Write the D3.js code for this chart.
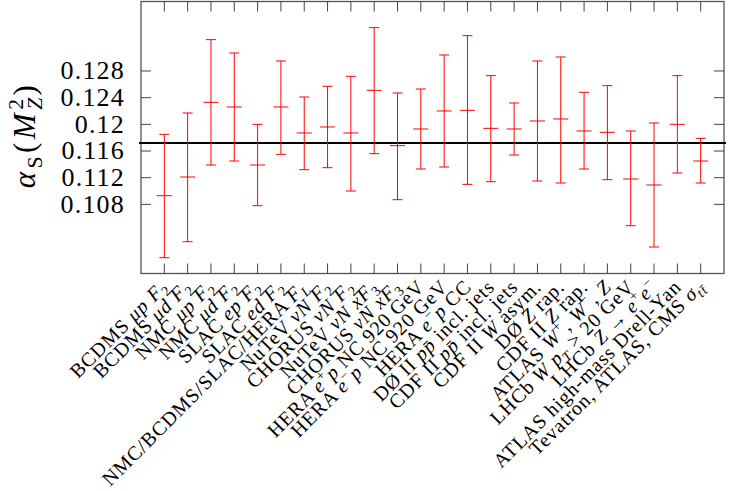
<!DOCTYPE html>
<html>
<head>
<meta charset="utf-8">
<script src="https://cdn.jsdelivr.net/npm/d3@7"></script>
<style>
  body { margin: 0; background: #fff; }
  svg { display: block; font-family: "Liberation Serif", "DejaVu Serif", serif; }
</style>
</head>
<body>
<svg id="svg" width="729" height="491"></svg>
<script>
// data sets (markup: *italic*, _{sub}, ^{sup})
var labels = [
  "BCDMS *μp* *F*_{2}",
  "BCDMS *μd* *F*_{2}",
  "NMC *μp* *F*_{2}",
  "NMC *μd* *F*_{2}",
  "SLAC *ep* *F*_{2}",
  "SLAC *ed* *F*_{2}",
  "NMC/BCDMS/SLAC/HERA *F*_{*L*}",
  "NuTeV *νN* *F*_{2}",
  "CHORUS *νN* *F*_{2}",
  "NuTeV *νN* *xF*_{3}",
  "CHORUS *νN* *xF*_{3}",
  "HERA *e*^{+}*p* NC 920 GeV",
  "HERA *e*^{−}*p* NC 920 GeV",
  "HERA *e*^{−}*p* CC",
  "DØ II *pp̄* incl. jets",
  "CDF II *pp̄* incl. jets",
  "CDF II *W* asym.",
  "DØ *Z* rap.",
  "CDF II *Z* rap.",
  "ATLAS *W*^{+}, *W*^{−}, *Z*",
  "LHCb *W* *p*_{*T*} > 20 GeV",
  "LHCb *Z* → *e*^{+}*e*^{−}",
  "ATLAS high-mass Drell-Yan",
  "Tevatron, ATLAS, CMS *σ*_{*tt̄*}"
];

var central = [0.1093, 0.1121, 0.1233, 0.1226, 0.1139, 0.1226, 0.1187, 0.1196,
               0.1187, 0.1251, 0.1168, 0.1193, 0.1220, 0.1221, 0.1194, 0.1193,
               0.1205, 0.1208, 0.1190, 0.1188, 0.1118, 0.1109, 0.1200, 0.1145];
var upper   = [0.1185, 0.1217, 0.1327, 0.1307, 0.1200, 0.1295, 0.1241, 0.1257,
               0.1272, 0.1345, 0.1247, 0.1253, 0.1304, 0.1333, 0.1273, 0.1232,
               0.1295, 0.1301, 0.1248, 0.1258, 0.1190, 0.1202, 0.1273, 0.1179];
var lower   = [0.1000, 0.1024, 0.1139, 0.1145, 0.1078, 0.1155, 0.1132, 0.1135,
               0.1100, 0.1156, 0.1087, 0.1133, 0.1136, 0.1110, 0.1114, 0.1154,
               0.1115, 0.1112, 0.1133, 0.1117, 0.1048, 0.1016, 0.1127, 0.1112];

var yTicks = [0.108, 0.112, 0.116, 0.12, 0.124, 0.128];
var globalAlpha = 0.1172;

var svg = d3.select('svg');
var plot = { left: 141, right: 724, top: 1.5, bottom: 273.5 };

var x = d3.scalePoint().domain(d3.range(labels.length)).range([plot.left, plot.right]).padding(1);
var y = d3.scaleLinear().domain([0.09763, 0.13842]).range([plot.bottom, plot.top]);

// add tspans for the small markup language
function richText(sel, str, size) {
  var italic = false, prevSub = null, pendingDy = 0;
  var i = 0, buf = '';
  function flush() {
    if (!buf) return;
    var t = sel.append('tspan').text(buf)
      .style('font-style', italic ? 'italic' : 'normal');
    if (pendingDy) t.attr('dy', pendingDy);
    pendingDy = 0;
    buf = '';
  }
  while (i < str.length) {
    var c = str[i];
    if (c == '*') { flush(); italic = !italic; i++; continue; }
    if ((c == '_' || c == '^') && str[i + 1] == '{') {
      flush();
      var end = str.indexOf('}', i);
      var inner = str.slice(i + 2, end);
      var isSub = c == '_';
      var dy = isSub ? 0.22 * size : -0.4 * size;
      var span = sel.append('tspan').style('font-size', (size * 0.7) + 'px');
      if (!isSub && prevSub) {
        // stack superscript over previous subscript
        span.attr('dx', -prevSub.node().getComputedTextLength());
        span.attr('dy', pendingDy + dy - 0.22 * size + pendingDy * 0);
        dy = -0.4 * size;
        span.attr('dy', -0.62 * size);
      } else {
        span.attr('dy', pendingDy + dy);
      }
      inner.split('*').forEach(function(p, k) {
        if (!p) return;
        var it = (k % 2 == 1) ? !italic : italic;
        span.append('tspan').text(p).style('font-style', it ? 'italic' : 'normal');
      });
      pendingDy = -dy;
      prevSub = isSub ? span : null;
      i = end + 1;
      continue;
    }
    prevSub = null;
    buf += c;
    i++;
  }
  flush();
}

// frame
svg.append('rect')
  .attr('x', plot.left).attr('y', plot.top)
  .attr('width', plot.right - plot.left).attr('height', plot.bottom - plot.top)
  .attr('fill', 'none').attr('stroke', '#555').attr('stroke-width', 1.3);

// x ticks, top and bottom, pointing inward
labels.forEach(function(d, i) {
  var px = x(i);
  svg.append('line').attr('x1', px).attr('x2', px).attr('y1', plot.bottom).attr('y2', plot.bottom - 10)
    .attr('stroke', '#444').attr('stroke-width', 1);
  svg.append('line').attr('x1', px).attr('x2', px).attr('y1', plot.top).attr('y2', plot.top + 10)
    .attr('stroke', '#444').attr('stroke-width', 1);
});

// y ticks on both sides
yTicks.forEach(function(t) {
  var py = y(t);
  svg.append('line').attr('x1', plot.left).attr('x2', plot.left + 10).attr('y1', py).attr('y2', py)
    .attr('stroke', '#444').attr('stroke-width', 1);
  svg.append('line').attr('x1', plot.right).attr('x2', plot.right - 10).attr('y1', py).attr('y2', py)
    .attr('stroke', '#444').attr('stroke-width', 1);
  svg.append('text').attr('x', 125).attr('y', py).attr('dy', '0.32em')
    .attr('text-anchor', 'end').style('font-size', '26px').style('letter-spacing', '1.2px')
    .text(d3.format('')(t));
});

// y axis title
var title = svg.append('text')
  .attr('transform', 'translate(35,135) rotate(-90)')
  .attr('text-anchor', 'middle').style('font-size', '31px').style('letter-spacing', '3.5px');
richText(title, "*α*_{S}(*M*_{*Z*}^{2})", 31);

// reference line
svg.append('line')
  .attr('x1', plot.left - 2).attr('x2', plot.right + 2)
  .attr('y1', y(globalAlpha)).attr('y2', y(globalAlpha))
  .attr('stroke', '#000').attr('stroke-width', 2);

// error bars
var bars = svg.append('g').attr('stroke', '#f00').attr('stroke-width', 1).attr('fill', 'none');
central.forEach(function(c, i) {
  var px = x(i);
  bars.append('line').attr('x1', px).attr('x2', px).attr('y1', y(lower[i])).attr('y2', y(upper[i]));
  bars.append('line').attr('x1', px - 5).attr('x2', px + 5).attr('y1', y(lower[i])).attr('y2', y(lower[i]));
  bars.append('line').attr('x1', px - 5).attr('x2', px + 5).attr('y1', y(upper[i])).attr('y2', y(upper[i]));
  bars.append('line').attr('x1', px - 7.5).attr('x2', px + 7.5).attr('y1', y(c)).attr('y2', y(c));
});

// rotated category labels
labels.forEach(function(d, i) {
  var t = svg.append('text')
    .attr('transform', 'translate(' + (x(i) + 5) + ',' + 288 + ') rotate(-45)')
    .attr('text-anchor', 'end').style('font-size', '20px').style('letter-spacing', '0.9px');
  richText(t, d, 20);
});
</script>
</body>
</html>
